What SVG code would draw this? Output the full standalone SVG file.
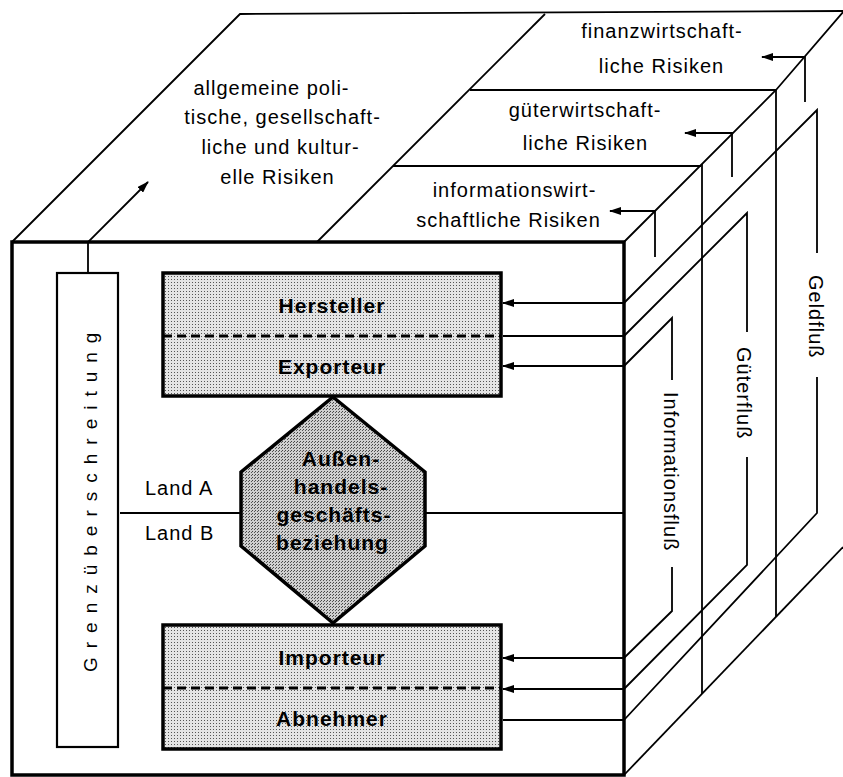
<svg xmlns="http://www.w3.org/2000/svg" width="843" height="777" viewBox="0 0 843 777">
<style>
  .thick { stroke:#000; stroke-width:3.5; fill:none; }
  .thin { stroke:#000; stroke-width:1.8; fill:none; }
  .mid { stroke:#000; stroke-width:2.2; fill:none; }
  .dash { stroke:#000; stroke-width:3; stroke-dasharray:9 5; fill:none; }
  text { font-family:"Liberation Sans", Arial, Helvetica, sans-serif; font-size:20px; fill:#000; letter-spacing:1px; }
  .c { text-anchor:middle; }
  .b { font-weight:bold; font-size:21px; letter-spacing:1px; }
  .box { fill:url(#halftone); stroke:#000; stroke-width:3.5; }
  .hex { fill:url(#halftone2); stroke:#000; stroke-width:3.5; }
</style>
<defs>
  <pattern id="halftone" width="3" height="3" patternUnits="userSpaceOnUse">
    <rect width="3" height="3" fill="#e4e4e4"/>
    <rect x="0" y="0" width="1" height="1" fill="#555"/>
  </pattern>
  <pattern id="halftone2" width="3" height="3" patternUnits="userSpaceOnUse">
    <rect width="3" height="3" fill="#cfcfcf"/>
    <rect x="0" y="0" width="1" height="1" fill="#444"/>
    <rect x="2" y="1" width="1" height="1" fill="#555"/>
  </pattern>
  <marker id="ah" viewBox="0 0 12 8" refX="11" refY="4" markerWidth="12" markerHeight="8" markerUnits="userSpaceOnUse" orient="auto">
    <path d="M0,0 L12,4 L0,8 Z" fill="#000"/>
  </marker>
</defs>
<rect width="843" height="777" fill="#fff"/>

<g id="cube">
  <rect x="12" y="242" width="612" height="533" class="thick"/>
  <path class="thin" d="M12,242 L240,14 L843,11"/>
  <path class="thin" d="M317,242 L545,14"/>
  <path class="thin" d="M393,166 L701,166"/>
  <path class="thin" d="M470,90 L776,90"/>
  <path class="thin" d="M624,242 L776,90 L843,12"/>
  <path class="thin" d="M702,164 L702,694"/>
  <path class="thin" d="M776,90 L776,617"/>
  <path class="thin" d="M624,775 L843,547"/>
</g>

<g id="general-risks">
  <text class="c" x="271.5" y="95">allgemeine poli-</text>
  <text class="c" x="282.5" y="124">tische, gesellschaft-</text>
  <text class="c" x="280.5" y="154">liche und kultur-</text>
  <text class="c" x="277.5" y="184">elle Risiken</text>
</g>
<g id="finanz-risks">
  <text class="c" x="662" y="38">finanzwirtschaft-</text>
  <text class="c" x="661.5" y="73">liche Risiken</text>
</g>
<g id="gueter-risks">
  <text class="c" x="585" y="117">güterwirtschaft-</text>
  <text class="c" x="585.5" y="150">liche Risiken</text>
</g>
<g id="info-risks">
  <text class="c" x="514.5" y="197">informationswirt-</text>
  <text class="c" x="508.5" y="227">schaftliche Risiken</text>
</g>

<g id="grenzueberschreitung">
  <rect x="57" y="273" width="61" height="474" fill="#fff" stroke="#000" stroke-width="2.2"/>
  <text transform="translate(97,672) rotate(-90)" style="font-size:19px; letter-spacing:9px">Grenzüberschreitung</text>
</g>

<g id="hersteller-exporteur">
  <rect x="163" y="273" width="338" height="123" class="box"/>
  <path class="dash" d="M163,336 L501,336"/>
  <text class="c b" x="332" y="313">Hersteller</text>
  <text class="c b" x="332" y="374">Exporteur</text>
</g>

<g id="aussenhandel">
  <polygon class="hex" points="333,397 425,472 425,546 333,623 241,546 241,472"/>
  <text class="c b" x="341" y="466">Außen-</text>
  <text class="c b" x="341" y="494">handels-</text>
  <text class="c b" x="334" y="522">geschäfts-</text>
  <text class="c b" x="332.5" y="550">beziehung</text>
</g>

<g id="importeur-abnehmer">
  <rect x="163" y="625" width="338" height="124" class="box"/>
  <path class="dash" d="M163,688 L501,688"/>
  <text class="c b" x="332" y="665">Importeur</text>
  <text class="c b" x="332" y="726">Abnehmer</text>
</g>

<g id="land-labels">
  <text x="145" y="495">Land A</text>
  <text x="145" y="540">Land B</text>
</g>

<g id="flow-labels">
  <text transform="translate(664,392) rotate(90)">Informationsfluß</text>
  <text transform="translate(737,347) rotate(90)">Güterfluß</text>
  <text transform="translate(809,275) rotate(90)">Geldfluß</text>
</g>

<g id="connectors">
  <path class="thin" d="M88,273 L88,242 L148,182" marker-end="url(#ah)"/>
  <path class="mid" d="M120,513 L241,513"/>
  <path class="mid" d="M425,513 L624,513"/>
  <!-- Geldfluss -->
  <path class="mid" d="M624,303 L503,303" marker-end="url(#ah)"/>
  <path class="thin" d="M624,303 L817,110 L817,253"/>
  <path class="thin" d="M817,377 L817,513 L624,720"/>
  <path class="mid" d="M624,720 L503,720"/>
  <!-- Gueterfluss -->
  <path class="mid" d="M624,336 L503,336"/>
  <path class="thin" d="M624,336 L747,213 L747,332"/>
  <path class="thin" d="M747,457 L747,565 L624,689"/>
  <path class="mid" d="M624,689 L503,689" marker-end="url(#ah)"/>
  <!-- Informationsfluss -->
  <path class="mid" d="M624,366 L503,366" marker-end="url(#ah)"/>
  <path class="thin" d="M624,366 L672,318 L672,380"/>
  <path class="thin" d="M672,567 L672,611 L624,658"/>
  <path class="mid" d="M624,658 L503,658" marker-end="url(#ah)"/>
  <!-- risk arrows -->
  <path class="thin" d="M655,257 L655,211 L610,211" marker-end="url(#ah)"/>
  <path class="thin" d="M732,177 L732,133 L685,133" marker-end="url(#ah)"/>
  <path class="thin" d="M805,102 L805,57 L762,57" marker-end="url(#ah)"/>
</g>
</svg>
